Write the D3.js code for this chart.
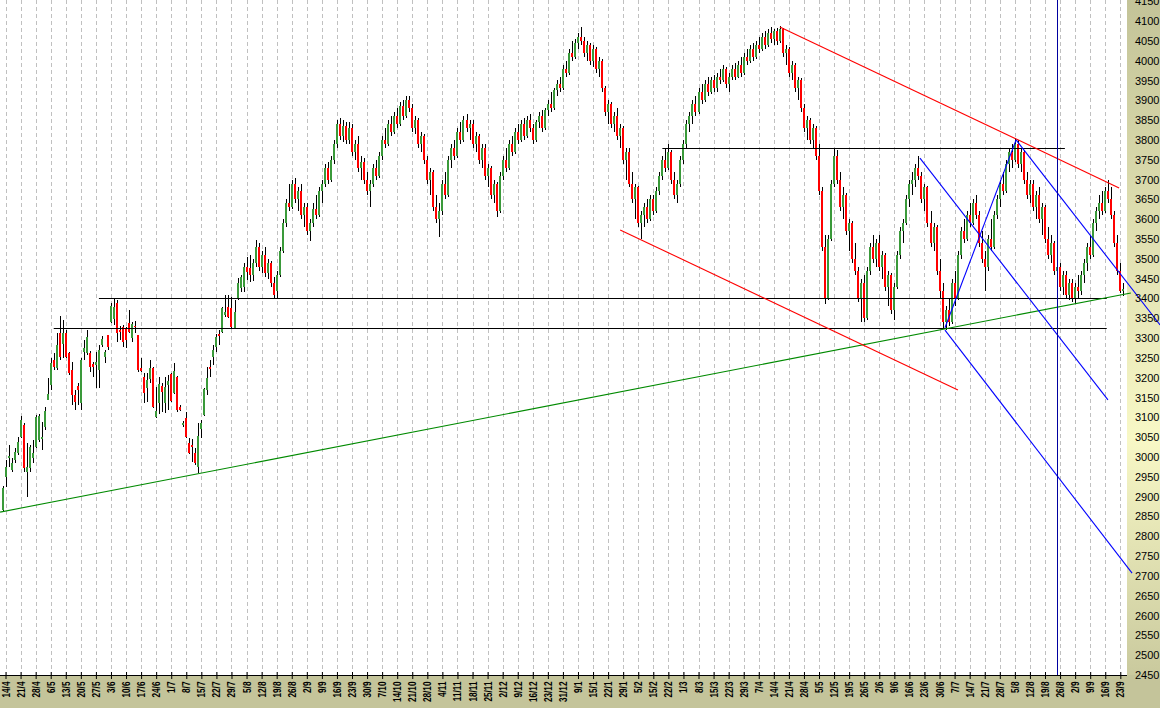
<!DOCTYPE html>
<html>
<head>
<meta charset="utf-8">
<script src="https://cdn.jsdelivr.net/npm/d3@7"></script>
<style>
  body { margin: 0; background: #fff; }
  svg { display: block; }
</style>
</head>
<body>
<div id="chart"></div>
<script>
// Daily candles: [open, high, low, close]
var candles = [
  [2866, 2927, 2861, 2922], [2950, 2992, 2924, 2975], [2998, 3030, 2975, 3003], [2967, 2998, 2962, 2985],
  [2992, 3023, 2985, 3013], [3010, 3050, 3005, 3038], [3050, 3104, 3048, 3093], [3081, 3086, 2962, 2972],
  [2962, 3035, 2899, 2975], [2972, 3030, 2962, 3025], [2998, 3043, 2985, 3010], [3025, 3106, 3023, 3101],
  [3043, 3109, 3038, 3104], [3045, 3088, 3018, 3050], [3076, 3126, 3068, 3116], [3144, 3199, 3144, 3159],
  [3182, 3250, 3169, 3237], [3245, 3262, 3219, 3227], [3225, 3313, 3219, 3283], [3313, 3356, 3245, 3252],
  [3285, 3346, 3250, 3313], [3313, 3320, 3250, 3252], [3262, 3265, 3207, 3212], [3219, 3240, 3131, 3156],
  [3156, 3169, 3119, 3139], [3179, 3187, 3131, 3169], [3136, 3250, 3119, 3245], [3265, 3295, 3245, 3275],
  [3262, 3320, 3257, 3303], [3262, 3267, 3214, 3227], [3235, 3240, 3202, 3227], [3232, 3265, 3174, 3240],
  [3219, 3283, 3174, 3270], [3283, 3305, 3278, 3298], [3252, 3270, 3237, 3265], [3308, 3308, 3270, 3278],
  [3341, 3389, 3338, 3381], [3348, 3401, 3333, 3378], [3389, 3396, 3290, 3313], [3320, 3330, 3295, 3315],
  [3328, 3333, 3278, 3290], [3325, 3328, 3275, 3295], [3338, 3371, 3313, 3315], [3300, 3341, 3290, 3336],
  [3330, 3343, 3313, 3327], [3308, 3308, 3214, 3219], [3225, 3250, 3214, 3217], [3202, 3212, 3136, 3162],
  [3174, 3212, 3139, 3194], [3197, 3245, 3187, 3225], [3225, 3227, 3124, 3126], [3101, 3177, 3098, 3116],
  [3136, 3202, 3109, 3184], [3179, 3187, 3114, 3164], [3136, 3202, 3111, 3177], [3182, 3207, 3119, 3192],
  [3209, 3212, 3139, 3141], [3162, 3237, 3159, 3217], [3202, 3204, 3114, 3119], [3126, 3131, 3116, 3119],
  [3081, 3091, 3076, 3086], [3098, 3114, 3048, 3050], [3035, 3048, 3008, 3010], [3030, 3045, 2987, 3025],
  [3010, 3023, 2980, 2985], [2975, 3086, 2960, 3053], [3071, 3093, 3048, 3086], [3106, 3174, 3104, 3172],
  [3169, 3227, 3156, 3199], [3227, 3245, 3202, 3222], [3252, 3283, 3232, 3270], [3278, 3310, 3265, 3303],
  [3310, 3320, 3283, 3305], [3315, 3378, 3313, 3376], [3358, 3409, 3353, 3366], [3378, 3409, 3351, 3353],
  [3376, 3404, 3325, 3328], [3325, 3396, 3323, 3366], [3401, 3452, 3396, 3439], [3426, 3459, 3416, 3454],
  [3429, 3489, 3416, 3479], [3479, 3505, 3447, 3467], [3477, 3510, 3442, 3459],
  [3460, 3500, 3445, 3490], [3490, 3548, 3480, 3530], [3530, 3540, 3470, 3480], [3480, 3520, 3465, 3510],
  [3510, 3530, 3455, 3465], [3465, 3500, 3450, 3490], [3490, 3495, 3430, 3440], [3440, 3455, 3400, 3410],
  [3420, 3470, 3398, 3460], [3460, 3530, 3455, 3520], [3520, 3600, 3515, 3590], [3590, 3650, 3580, 3640],
  [3640, 3690, 3620, 3630], [3630, 3700, 3625, 3690], [3690, 3705, 3640, 3650], [3650, 3680, 3620, 3670],
  [3670, 3690, 3600, 3610], [3610, 3640, 3580, 3630], [3630, 3640, 3560, 3570], [3570, 3600, 3545, 3590],
  [3590, 3640, 3580, 3625], [3625, 3660, 3600, 3610], [3610, 3680, 3605, 3670], [3670, 3700, 3640, 3690],
  [3690, 3740, 3680, 3730], [3730, 3745, 3690, 3700], [3700, 3760, 3695, 3750], [3750, 3800, 3740, 3790],
  [3790, 3850, 3780, 3840], [3840, 3855, 3800, 3810], [3810, 3850, 3795, 3835], [3835, 3845, 3790, 3800],
  [3800, 3845, 3790, 3830], [3830, 3840, 3760, 3770], [3770, 3800, 3750, 3790], [3790, 3810, 3720, 3730],
  [3730, 3760, 3700, 3745], [3745, 3755, 3690, 3700], [3700, 3720, 3660, 3670], [3670, 3700, 3630, 3690],
  [3690, 3740, 3680, 3730], [3730, 3750, 3700, 3710], [3710, 3770, 3705, 3760], [3760, 3810, 3750, 3800],
  [3800, 3830, 3780, 3790], [3790, 3850, 3785, 3840], [3840, 3860, 3810, 3820], [3820, 3870, 3815, 3860],
  [3860, 3880, 3830, 3840], [3840, 3895, 3835, 3885], [3885, 3900, 3850, 3860], [3860, 3910, 3855, 3900],
  [3900, 3912, 3870, 3880], [3880, 3890, 3820, 3830], [3830, 3860, 3815, 3850], [3850, 3855, 3780, 3790],
  [3790, 3820, 3770, 3810], [3810, 3815, 3740, 3750], [3750, 3760, 3690, 3700], [3700, 3730, 3660, 3720],
  [3720, 3725, 3620, 3630], [3630, 3660, 3590, 3600], [3600, 3640, 3555, 3620], [3620, 3700, 3610, 3690],
  [3690, 3720, 3650, 3660], [3660, 3760, 3655, 3750], [3750, 3790, 3730, 3780], [3780, 3800, 3750, 3760],
  [3760, 3830, 3755, 3820], [3820, 3845, 3790, 3800], [3800, 3860, 3795, 3850], [3850, 3865, 3820, 3830],
  [3830, 3850, 3800, 3840], [3840, 3850, 3780, 3790], [3790, 3820, 3770, 3810], [3810, 3815, 3740, 3750],
  [3750, 3790, 3730, 3780], [3780, 3790, 3700, 3710], [3710, 3740, 3680, 3730], [3730, 3735, 3650, 3660],
  [3660, 3700, 3640, 3690], [3690, 3695, 3605, 3620], [3620, 3720, 3615, 3710], [3710, 3760, 3700, 3750],
  [3750, 3780, 3720, 3730], [3730, 3800, 3725, 3790], [3790, 3810, 3760, 3770], [3770, 3830, 3765, 3820],
  [3820, 3840, 3790, 3800], [3800, 3850, 3795, 3840], [3840, 3855, 3800, 3810], [3810, 3860, 3805, 3850],
  [3850, 3865, 3820, 3830], [3830, 3840, 3790, 3800], [3800, 3850, 3795, 3845], [3845, 3870, 3830, 3860],
  [3860, 3875, 3820, 3830], [3830, 3880, 3825, 3875], [3875, 3900, 3860, 3890], [3890, 3920, 3870, 3880],
  [3880, 3930, 3875, 3925], [3925, 3950, 3910, 3940], [3940, 3960, 3920, 3930], [3930, 3990, 3925, 3980],
  [3980, 4000, 3960, 3970], [3970, 4030, 3965, 4020], [4020, 4050, 4000, 4010], [4010, 4055, 4005, 4045],
  [4045, 4070, 4030, 4060], [4060, 4085, 4040, 4050], [4050, 4060, 4010, 4020], [4020, 4050, 4000, 4040],
  [4040, 4045, 3990, 4000], [4000, 4040, 3985, 4030], [4030, 4035, 3970, 3980], [3980, 4010, 3960, 4000],
  [4000, 4005, 3920, 3930], [3930, 3935, 3860, 3870], [3870, 3900, 3840, 3890], [3890, 3895, 3830, 3840],
  [3840, 3870, 3820, 3860], [3860, 3880, 3800, 3810], [3810, 3840, 3780, 3830], [3830, 3835, 3740, 3750],
  [3750, 3780, 3700, 3770], [3770, 3780, 3680, 3690], [3690, 3720, 3640, 3650], [3650, 3690, 3600, 3680],
  [3680, 3685, 3580, 3590], [3590, 3620, 3550, 3610], [3610, 3640, 3580, 3630], [3630, 3650, 3590, 3600],
  [3600, 3660, 3595, 3650], [3650, 3660, 3610, 3620], [3620, 3680, 3615, 3670], [3670, 3720, 3660, 3710],
  [3710, 3760, 3700, 3750], [3750, 3780, 3720, 3730], [3730, 3790, 3725, 3770], [3770, 3775, 3690, 3700],
  [3700, 3720, 3650, 3660], [3660, 3700, 3640, 3690], [3690, 3760, 3680, 3750], [3750, 3800, 3740, 3790],
  [3790, 3850, 3780, 3840], [3840, 3870, 3820, 3860], [3860, 3900, 3840, 3890], [3890, 3910, 3860, 3870],
  [3870, 3930, 3865, 3920], [3920, 3940, 3890, 3900], [3900, 3950, 3895, 3940], [3940, 3960, 3910, 3920],
  [3920, 3960, 3915, 3950], [3950, 3965, 3920, 3930], [3930, 3970, 3920, 3960], [3960, 3980, 3940, 3950],
  [3950, 3990, 3945, 3980], [3980, 3985, 3930, 3940], [3940, 3970, 3920, 3960], [3960, 3990, 3950, 3980],
  [3980, 3995, 3950, 3960], [3960, 4000, 3955, 3990], [3990, 4010, 3960, 3970], [3970, 4020, 3965, 4010],
  [4010, 4030, 3990, 4000], [4000, 4040, 3995, 4030], [4030, 4045, 4000, 4010], [4010, 4050, 4005, 4040],
  [4040, 4060, 4020, 4030], [4030, 4070, 4025, 4060], [4060, 4075, 4030, 4040], [4040, 4080, 4035, 4070],
  [4070, 4085, 4045, 4055], [4055, 4080, 4040, 4075], [4075, 4082, 4040, 4050], [4050, 4087, 4045, 4080],
  [4080, 4082, 4010, 4020], [4020, 4040, 3990, 4030], [4030, 4035, 3960, 3970], [3970, 4000, 3950, 3990],
  [3990, 3995, 3920, 3930], [3930, 3960, 3900, 3950], [3950, 3955, 3870, 3880], [3880, 3890, 3820, 3830],
  [3830, 3860, 3800, 3850], [3850, 3855, 3790, 3800], [3800, 3840, 3780, 3830], [3830, 3835, 3750, 3760],
  [3760, 3790, 3660, 3670], [3670, 3680, 3520, 3530], [3530, 3560, 3385, 3400], [3400, 3560, 3395, 3550],
  [3550, 3700, 3545, 3690], [3690, 3780, 3680, 3760], [3760, 3775, 3690, 3700], [3700, 3720, 3620, 3630],
  [3630, 3680, 3600, 3660], [3660, 3665, 3560, 3570], [3570, 3600, 3520, 3590], [3590, 3595, 3490, 3500],
  [3500, 3540, 3460, 3470], [3470, 3480, 3390, 3400], [3400, 3450, 3340, 3440], [3440, 3460, 3340, 3350],
  [3350, 3480, 3345, 3470], [3470, 3540, 3460, 3530], [3530, 3560, 3490, 3500], [3500, 3550, 3480, 3540],
  [3540, 3560, 3470, 3480], [3480, 3520, 3450, 3510], [3510, 3515, 3420, 3430], [3430, 3470, 3380, 3460],
  [3460, 3465, 3360, 3370], [3370, 3440, 3345, 3430], [3430, 3520, 3425, 3510], [3510, 3580, 3500, 3570],
  [3570, 3600, 3540, 3590], [3590, 3660, 3585, 3650], [3650, 3700, 3630, 3690], [3690, 3720, 3660, 3700],
  [3700, 3740, 3680, 3730], [3730, 3760, 3700, 3710], [3710, 3720, 3640, 3650], [3650, 3690, 3620, 3680],
  [3680, 3685, 3580, 3590], [3590, 3620, 3530, 3540], [3540, 3590, 3520, 3580], [3580, 3585, 3460, 3470],
  [3470, 3500, 3400, 3420], [3420, 3440, 3325, 3340], [3340, 3380, 3320, 3370], [3370, 3400, 3330, 3340],
  [3340, 3450, 3335, 3440], [3440, 3470, 3380, 3400], [3400, 3520, 3395, 3510], [3510, 3580, 3500, 3570],
  [3570, 3600, 3540, 3550], [3550, 3620, 3545, 3610], [3610, 3640, 3580, 3590], [3590, 3650, 3585, 3640],
  [3640, 3660, 3600, 3610], [3610, 3620, 3530, 3540], [3540, 3570, 3490, 3500], [3500, 3520, 3420, 3480],
  [3480, 3560, 3470, 3550], [3550, 3600, 3520, 3530], [3530, 3620, 3525, 3610], [3610, 3660, 3600, 3650],
  [3650, 3700, 3630, 3690], [3690, 3720, 3660, 3670], [3670, 3750, 3665, 3740], [3740, 3780, 3720, 3770],
  [3770, 3790, 3730, 3750], [3750, 3805, 3745, 3790], [3790, 3800, 3730, 3740], [3740, 3780, 3720, 3770],
  [3770, 3775, 3690, 3700], [3700, 3720, 3650, 3660], [3660, 3700, 3640, 3690], [3690, 3700, 3620, 3630],
  [3630, 3670, 3600, 3660], [3660, 3680, 3590, 3600], [3600, 3640, 3560, 3630], [3630, 3635, 3540, 3550],
  [3550, 3580, 3500, 3510], [3510, 3560, 3490, 3540], [3540, 3545, 3460, 3470], [3470, 3490, 3430, 3480],
  [3480, 3490, 3420, 3430], [3430, 3470, 3410, 3460], [3460, 3470, 3400, 3410], [3410, 3450, 3395, 3440],
  [3440, 3450, 3390, 3400], [3400, 3440, 3385, 3430], [3430, 3460, 3400, 3420], [3420, 3470, 3410, 3460],
  [3460, 3500, 3440, 3490], [3490, 3540, 3470, 3530], [3530, 3560, 3500, 3510], [3510, 3600, 3505, 3590],
  [3590, 3630, 3570, 3620], [3620, 3660, 3600, 3640], [3640, 3670, 3610, 3620], [3620, 3680, 3615, 3670],
  [3670, 3700, 3640, 3650], [3650, 3680, 3600, 3610], [3610, 3620, 3530, 3540], [3540, 3560, 3460, 3470],
  [3470, 3490, 3415, 3420], [3420, 3440, 3405, 3425]
];

var dayCount = 373;          // trading days on the x axis
var firstLabelDay = 1;       // day index of the first date label
var labelStep = 5;           // a label every 5 trading days
var dayLabels = [
  "14/4", "21/4", "28/4", "6/5", "13/5", "20/5", "27/5", "3/6", "10/6", "17/6",
  "24/6", "1/7", "8/7", "15/7", "22/7", "29/7", "5/8", "12/8", "19/8", "26/8",
  "2/9", "9/9", "16/9", "23/9", "30/9", "7/10", "14/10", "21/10", "28/10", "4/11",
  "11/11", "18/11", "25/11", "2/12", "9/12", "16/12", "23/12", "31/12", "9/1", "15/1",
  "22/1", "29/1", "5/2", "15/2", "22/2", "1/3", "8/3", "15/3", "22/3", "29/3",
  "7/4", "14/4", "21/4", "28/4", "5/5", "12/5", "19/5", "26/5", "2/6", "9/6",
  "16/6", "23/6", "30/6", "7/7", "14/7", "21/7", "28/7", "5/8", "12/8", "19/8",
  "26/8", "2/9", "9/9", "16/9", "23/9"
];
var priceTicks = d3.range(2450, 4151, 50);

// Drawn studies, in [day, price] pairs
var supportLevels = [[32, 366.5, 3400], [17, 366.5, 3325], [219, 352.6, 3780]];  // [fromDay, toDay, price]
var greenTrend = [[-0.8, 2861, 374.5, 3414]];
var redTrends = [[258, 4085, 370.6, 3679], [205, 3573, 317.1, 3169]];
var blueTrends = [
  [304.5, 3754, 366.9, 3144],
  [312.8, 3326, 336.4, 3800],
  [336.4, 3800, 384.2, 3333],
  [312.8, 3320, 374.9, 2707]
];
var markerDay = 350;

var width = 1160, height = 708;
var plotRight = 1127, plotBottom = 675;
var fontFamily = "'Liberation Sans', Arial, sans-serif";

var svg = d3.select("#chart").append("svg")
  .attr("width", width)
  .attr("height", height)
  .style("font-family", fontFamily);

var x = d3.scaleLinear().domain([0, dayCount - 1]).range([2.5, 2.5 + 3.013 * (dayCount - 1)]);
var y = d3.scaleLinear().domain([2450, 4150]).range([plotBottom, 1.2]);

// Background panels
var defs = svg.append("defs");
var grad = defs.append("linearGradient").attr("id", "axisGrad")
  .attr("x1", 0).attr("y1", 0).attr("x2", 0).attr("y2", 1);
grad.append("stop").attr("offset", "0%").attr("stop-color", "#c3c398");
grad.append("stop").attr("offset", "62%").attr("stop-color", "#f8f8c6");
grad.append("stop").attr("offset", "100%").attr("stop-color", "#c3c398");

svg.append("rect").attr("width", width).attr("height", height).attr("fill", "#fff");
svg.append("rect").attr("x", plotRight).attr("y", 0)
  .attr("width", width - plotRight).attr("height", height).attr("fill", "url(#axisGrad)");
svg.append("rect").attr("x", 0).attr("y", plotBottom)
  .attr("width", width).attr("height", height - plotBottom).attr("fill", "#c4c49a");

var labelDays = dayLabels.map(function(d, i) { return firstLabelDay + i * labelStep; });

// Dashed vertical grid
svg.append("g").attr("class", "grid")
  .selectAll("line").data(labelDays).enter().append("line")
  .attr("x1", function(d) { return Math.round(x(d)) + 0.5; })
  .attr("x2", function(d) { return Math.round(x(d)) + 0.5; })
  .attr("y1", 0).attr("y2", plotBottom)
  .attr("stroke", "#c0c0c0")
  .attr("stroke-dasharray", "4,3");

// Candles
var candleG = svg.append("g").attr("class", "candles").attr("shape-rendering", "crispEdges");
var candle = candleG.selectAll("g").data(candles).enter().append("g");

candle.append("line")
  .attr("x1", function(d, i) { return Math.round(x(i)) + 0.5; })
  .attr("x2", function(d, i) { return Math.round(x(i)) + 0.5; })
  .attr("y1", function(d) { return y(d[1]); })
  .attr("y2", function(d) { return y(d[2]); })
  .attr("stroke", "#000");

candle.append("rect")
  .attr("x", function(d, i) { return Math.round(x(i)) - 1; })
  .attr("width", 2)
  .attr("y", function(d) { return y(Math.max(d[0], d[3])); })
  .attr("height", function(d) { return Math.max(1, Math.abs(y(d[0]) - y(d[3]))); })
  .attr("fill", function(d) { return d[3] >= d[0] ? "#3a9a3a" : "#ff0000"; });

// Horizontal levels
svg.append("g").selectAll("line").data(supportLevels).enter().append("line")
  .attr("x1", function(d) { return x(d[0]); })
  .attr("x2", function(d) { return x(d[1]); })
  .attr("y1", function(d) { return Math.round(y(d[2])) + 0.5; })
  .attr("y2", function(d) { return Math.round(y(d[2])) + 0.5; })
  .attr("stroke", "#000");

function drawTrends(data, color) {
  svg.append("g").selectAll("line").data(data).enter().append("line")
    .attr("x1", function(d) { return x(d[0]); })
    .attr("y1", function(d) { return y(d[1]); })
    .attr("x2", function(d) { return x(d[2]); })
    .attr("y2", function(d) { return y(d[3]); })
    .attr("stroke", color)
    .attr("stroke-width", 1.1);
}
drawTrends(greenTrend, "#008a00");
drawTrends(redTrends, "#ff0000");
drawTrends(blueTrends, "#0000ff");

// Vertical marker
svg.append("line")
  .attr("x1", Math.round(x(markerDay)) + 0.5).attr("x2", Math.round(x(markerDay)) + 0.5)
  .attr("y1", 0).attr("y2", plotBottom)
  .attr("stroke", "#0000a0");

// Bottom axis
var xAxis = d3.axisBottom(x)
  .tickValues(labelDays)
  .tickFormat(function(d, i) { return dayLabels[i]; })
  .tickSizeInner(7)
  .tickSizeOuter(0);

var xAxisG = svg.append("g")
  .attr("transform", "translate(0," + plotBottom + ")")
  .call(xAxis);
xAxisG.select(".domain").attr("d", "M0,0.5H" + plotRight).attr("stroke", "#000");
xAxisG.selectAll(".tick line").attr("y1", -3).attr("y2", 4).attr("stroke", "#000");
xAxisG.selectAll(".tick text")
  .attr("transform", "rotate(-90) scale(0.82,1)")
  .attr("x", -8).attr("y", 0).attr("dy", "0.35em")
  .style("text-anchor", "end")
  .style("font-size", "10px")
  .style("font-weight", "bold")
  .style("font-family", fontFamily)
  .attr("fill", "#000");

// Right price axis
var yAxis = d3.axisRight(y).tickValues(priceTicks).tickFormat(d3.format("d"))
  .tickSize(0).tickPadding(8);
var yAxisG = svg.append("g")
  .attr("transform", "translate(" + plotRight + ",0)")
  .call(yAxis);
yAxisG.select(".domain").remove();
yAxisG.selectAll(".tick text")
  .style("font-size", "11px")
  .style("font-family", fontFamily)
  .attr("fill", "#000");
</script>
</body>
</html>
